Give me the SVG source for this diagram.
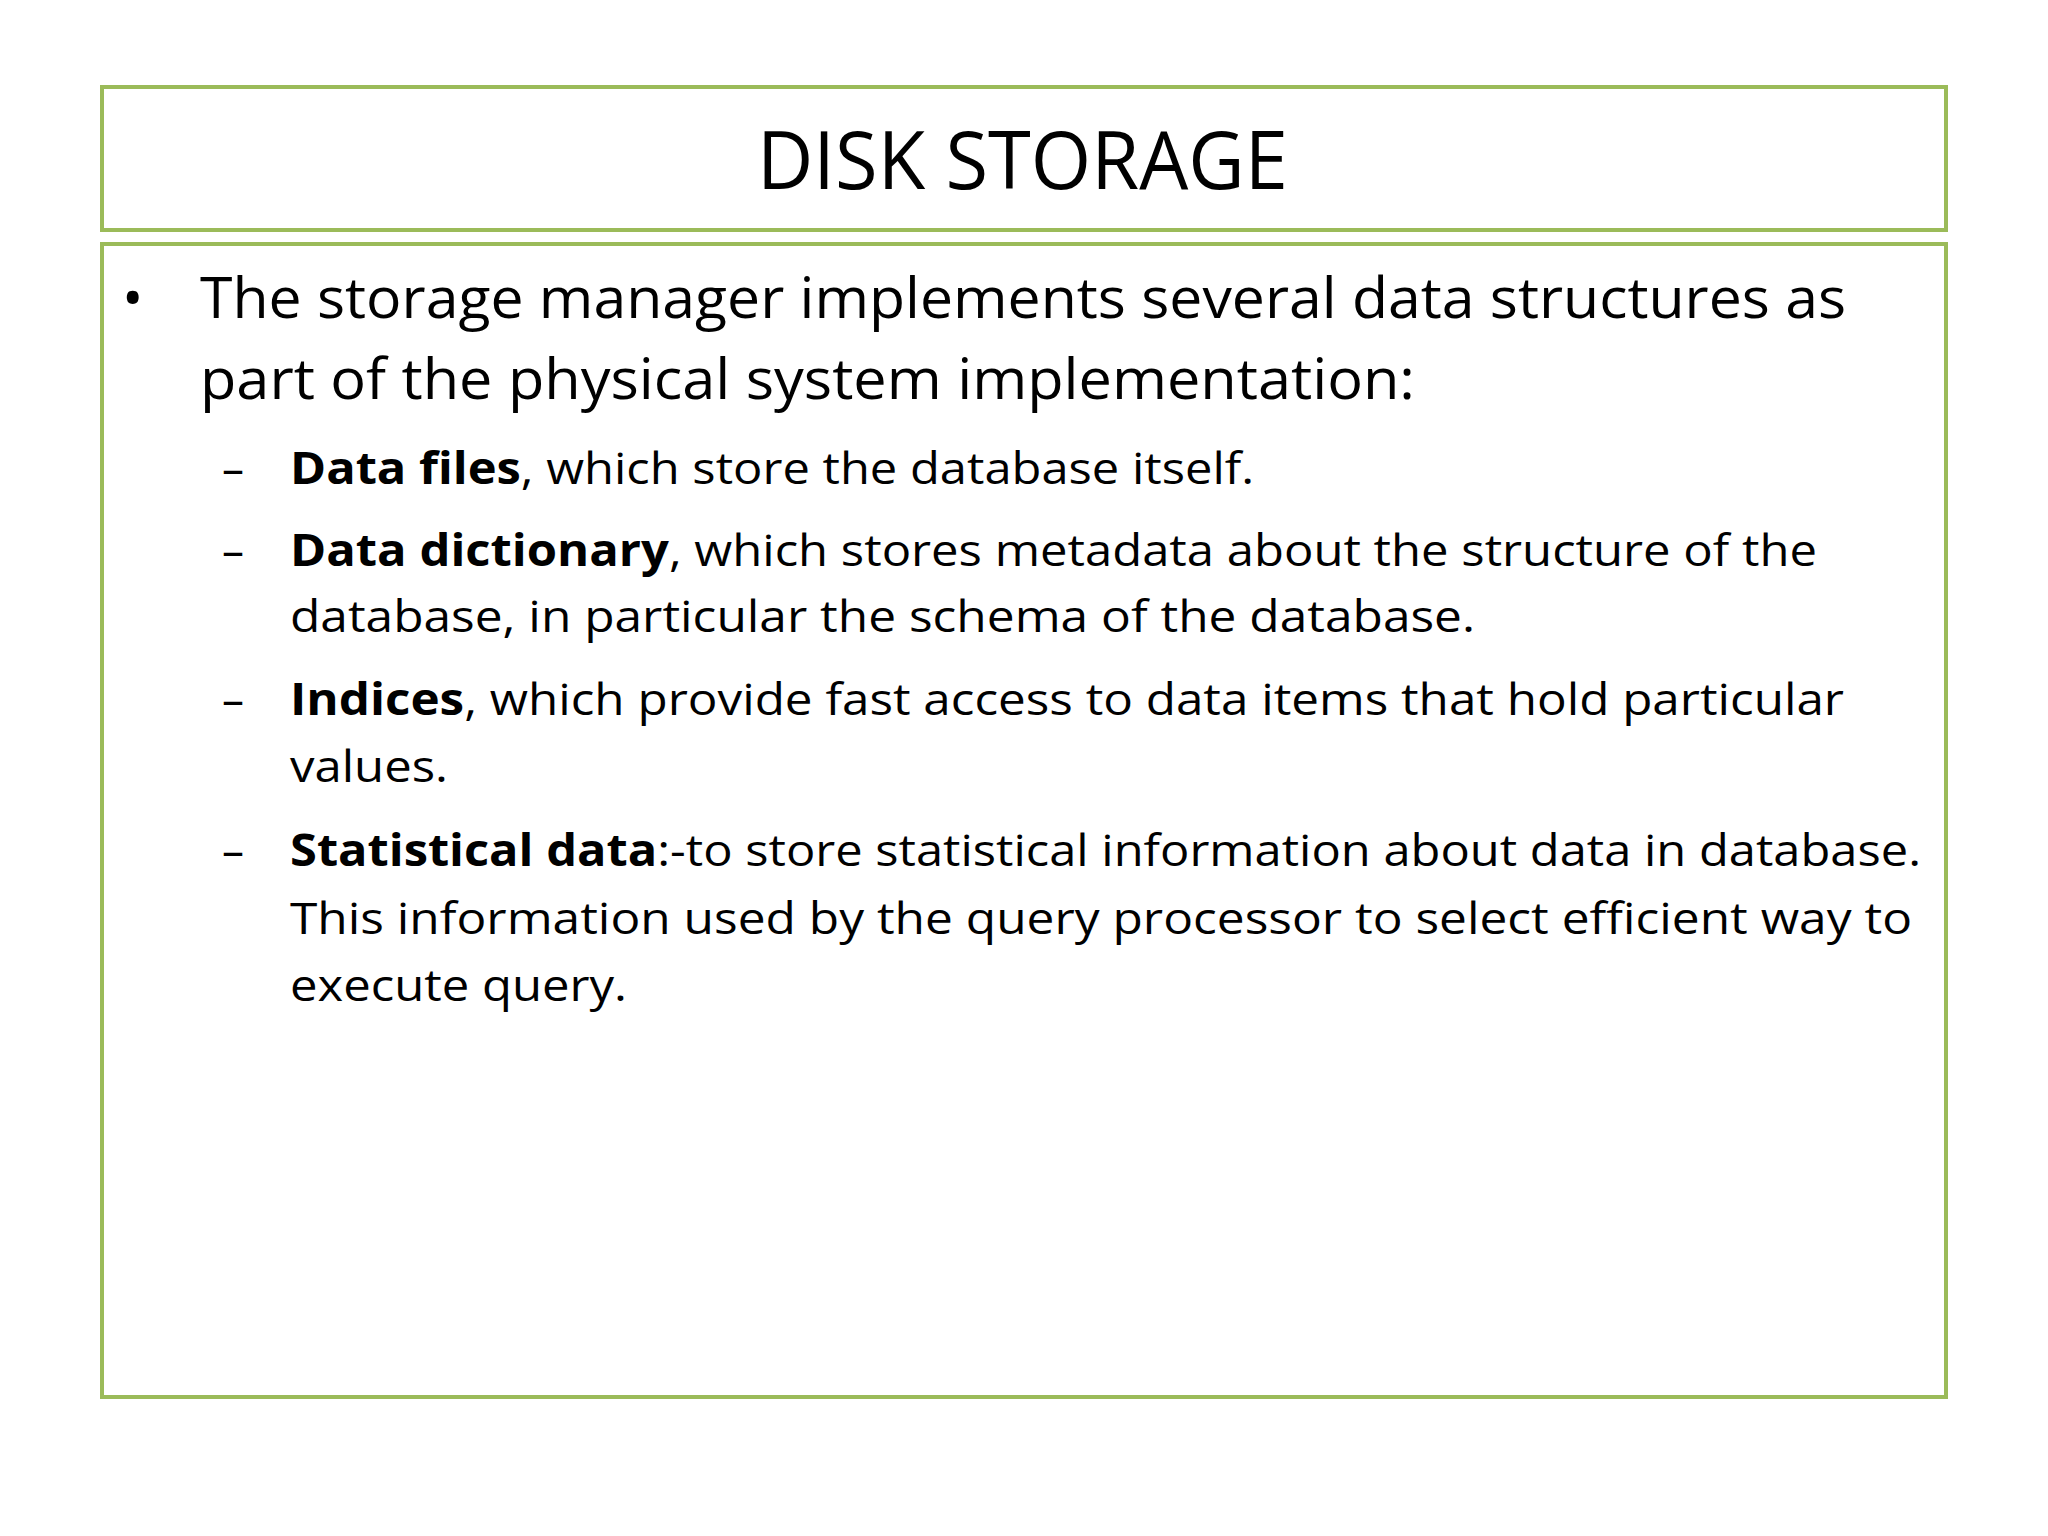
<svg xmlns="http://www.w3.org/2000/svg" width="2048" height="1536" viewBox="0 0 2048 1536">
<style>
.box{fill:#fff;stroke:#9bbb59;stroke-width:4}
text{font-family:"Open Sans","Noto Sans",sans-serif;fill:#000}
.t{font-size:80px}
.m{font-size:57px}
.s{font-size:44px}
b,.b{font-weight:bold}
</style>
<rect width="2048" height="1536" fill="#fff"/>
<g id="title"><rect class="box" x="102" y="87" width="1844" height="143"/>
<text class="t" x="757" y="189" textLength="531" lengthAdjust="spacingAndGlyphs">DISK STORAGE</text></g>
<g id="body"><rect class="box" x="102" y="244" width="1844" height="1153"/>
<text class="m" x="122" y="318">•</text>
<text class="m" x="200" y="318" textLength="1646" lengthAdjust="spacingAndGlyphs">The storage manager implements several data structures as</text>
<text class="m" x="200" y="399" textLength="1215" lengthAdjust="spacingAndGlyphs">part of the physical system implementation:</text>
<text class="s" x="222" y="484">–</text>
<text class="s" x="290" y="484" textLength="964" lengthAdjust="spacingAndGlyphs"><tspan class="b">Data files</tspan>, which store the database itself.</text>
<text class="s" x="222" y="566">–</text>
<text class="s" x="290" y="566" textLength="1527" lengthAdjust="spacingAndGlyphs"><tspan class="b">Data dictionary</tspan>, which stores metadata about the structure of the</text>
<text class="s" x="290" y="632" textLength="1185" lengthAdjust="spacingAndGlyphs">database, in particular the schema of the database.</text>
<text class="s" x="222" y="715">–</text>
<text class="s" x="290" y="715" textLength="1554" lengthAdjust="spacingAndGlyphs"><tspan class="b">Indices</tspan>, which provide fast access to data items that hold particular</text>
<text class="s" x="290" y="782" textLength="158" lengthAdjust="spacingAndGlyphs">values.</text>
<text class="s" x="222" y="866">–</text>
<text class="s" x="290" y="866" textLength="1631" lengthAdjust="spacingAndGlyphs"><tspan class="b">Statistical data</tspan>:-to store statistical information about data in database.</text>
<text class="s" x="290" y="934" textLength="1622" lengthAdjust="spacingAndGlyphs">This information used by the query processor to select efficient way to</text>
<text class="s" x="290" y="1001" textLength="337" lengthAdjust="spacingAndGlyphs">execute query.</text>
</g>
</svg>
